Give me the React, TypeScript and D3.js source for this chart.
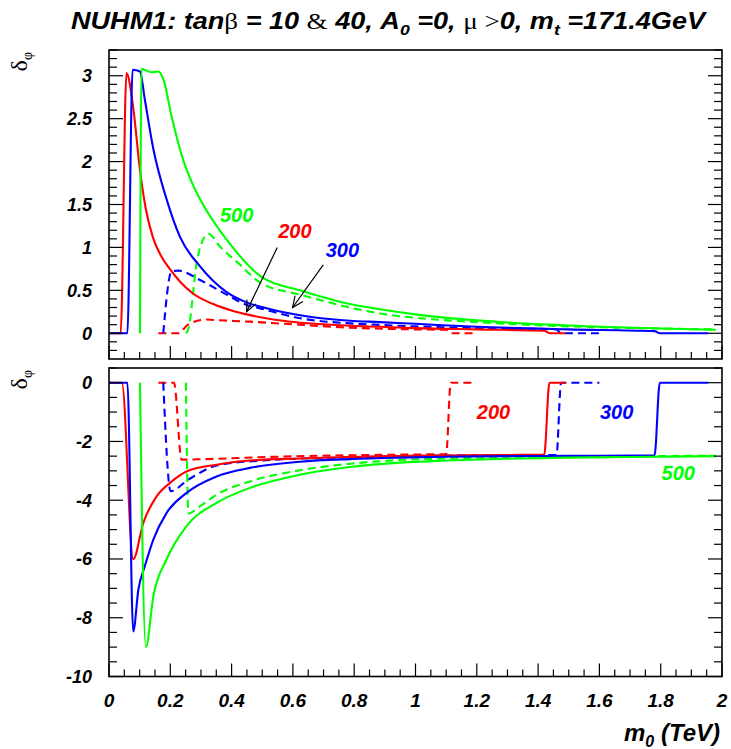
import React from 'react';
import * as d3 from 'd3';

type Pt = [number, number];

// m0 (TeV) vs δφ. Solid: tanβ = 10, dashed: tanβ = 40. Series labelled by m1/2 (GeV).
const upper200Tb10: Pt[] = [[0, 0], [0.038, 0], [0.057, 3.03], [0.08, 2.6], [0.101, 1.9], [0.12, 1.45], [0.143, 1.12], [0.17, 0.9], [0.2, 0.74], [0.232, 0.6], [0.275, 0.46], [0.34, 0.34], [0.405, 0.26], [0.449, 0.22], [0.568, 0.145], [0.786, 0.088], [0.884, 0.075], [1.0, 0.06], [1.2, 0.045], [1.42, 0.03], [1.437, 0], [1.49, 0]];
const upper300Tb10: Pt[] = [[0, 0], [0.06, 0], [0.077, 3.07], [0.101, 3.05], [0.117, 2.72], [0.145, 2.14], [0.188, 1.56], [0.232, 1.12], [0.297, 0.78], [0.384, 0.48], [0.449, 0.36], [0.514, 0.29], [0.678, 0.18], [0.786, 0.145], [0.884, 0.13], [1.0, 0.11], [1.2, 0.075], [1.5, 0.045], [1.78, 0.025], [1.797, 0], [1.955, 0]];
const upper500Tb10: Pt[] = [[0.101, 0], [0.106, 3.08], [0.139, 3.04], [0.161, 3.05], [0.179, 2.94], [0.204, 2.53], [0.242, 2.02], [0.275, 1.72], [0.297, 1.56], [0.384, 1.09], [0.5, 0.65], [0.623, 0.5], [0.786, 0.34], [0.884, 0.28], [1.0, 0.22], [1.2, 0.15], [1.5, 0.09], [1.8, 0.055], [1.98, 0.04]];
const upper200Tb40: Pt[] = [[0.161, 0], [0.226, 0], [0.258, 0.1], [0.318, 0.16], [0.34, 0.155], [0.457, 0.135], [0.62, 0.1], [0.786, 0.065], [1.0, 0.045], [1.1, 0.04], [1.115, 0], [1.187, 0]];
const upper300Tb40: Pt[] = [[0.177, 0], [0.204, 0.72], [0.226, 0.73], [0.297, 0.62], [0.384, 0.45], [0.449, 0.33], [0.493, 0.29], [0.623, 0.175], [0.786, 0.115], [0.884, 0.097], [1.0, 0.08], [1.2, 0.06], [1.46, 0.045], [1.475, 0], [1.6, 0]];
const upper500Tb40: Pt[] = [[0.251, 0], [0.259, 0.05], [0.286, 0.82], [0.313, 1.13], [0.324, 1.16], [0.362, 1.01], [0.427, 0.8], [0.493, 0.59], [0.623, 0.45], [0.786, 0.3], [0.884, 0.23], [1.0, 0.18], [1.2, 0.13], [1.5, 0.08], [1.8, 0.055], [1.98, 0.045]];

const lower200Tb10: Pt[] = [[0, 0], [0.042, 0], [0.079, -6.01], [0.112, -4.77], [0.156, -3.86], [0.199, -3.41], [0.253, -3.02], [0.351, -2.79], [0.46, -2.65], [0.623, -2.58], [0.786, -2.53], [0.95, -2.5], [1.1, -2.48], [1.3, -2.46], [1.42, -2.45], [1.437, 0], [1.49, 0]];
const lower300Tb10: Pt[] = [[0, 0], [0.06, 0], [0.079, -8.47], [0.096, -7.03], [0.117, -6.24], [0.145, -5.33], [0.188, -4.43], [0.253, -3.75], [0.351, -3.19], [0.46, -2.9], [0.623, -2.69], [0.786, -2.6], [0.95, -2.55], [1.1, -2.52], [1.3, -2.5], [1.5, -2.49], [1.78, -2.47], [1.797, 0], [1.955, 0]];
const lower500Tb10: Pt[] = [[0.101, 0], [0.12, -9.0], [0.145, -7.25], [0.188, -6.01], [0.253, -4.88], [0.351, -4.09], [0.46, -3.58], [0.623, -3.13], [0.786, -2.87], [0.95, -2.72], [1.1, -2.65], [1.3, -2.59], [1.5, -2.55], [1.7, -2.53], [1.98, -2.5]];
const lower200Tb40: Pt[] = [[0.161, 0], [0.212, 0], [0.237, -2.62], [0.318, -2.6], [0.514, -2.53], [0.786, -2.47], [0.95, -2.45], [1.1, -2.43], [1.115, 0], [1.187, 0]];
const lower300Tb40: Pt[] = [[0.177, 0], [0.201, -3.69], [0.259, -3.3], [0.351, -2.82], [0.514, -2.64], [0.786, -2.54], [0.95, -2.5], [1.2, -2.47], [1.46, -2.46], [1.475, 0], [1.6, 0]];
const lower500Tb40: Pt[] = [[0.251, 0], [0.259, -4.45], [0.297, -4.2], [0.351, -3.81], [0.46, -3.36], [0.623, -2.98], [0.786, -2.76], [0.95, -2.63], [1.1, -2.58], [1.3, -2.54], [1.5, -2.52], [1.7, -2.5], [1.98, -2.49]];

const xTickLabels = ['0', '0.2', '0.4', '0.6', '0.8', '1', '1.2', '1.4', '1.6', '1.8', '2'];
const upperTickLabels = ['0', '0.5', '1', '1.5', '2', '2.5', '3'];
const lowerTickLabels = ['0', '-2', '-4', '-6', '-8', '-10'];

// In-plot labels: [text, x (TeV), δφ, colour key]
const upperLabels: [string, number, number, string][] = [['500', 0.362, 1.3, 'g'], ['200', 0.552, 1.11, 'r'], ['300', 0.707, 0.894, 'b']];
const lowerLabels: [string, number, number, string][] = [['200', 1.2, -1.23, 'r'], ['300', 1.602, -1.23, 'b'], ['500', 1.803, -3.3, 'g']];
// Arrows: from (x, δφ) to (x, δφ)
const upperArrows: [Pt, Pt][] = [[[0.549, 1.0], [0.449, 0.252]], [[0.699, 0.797], [0.599, 0.3]]];

const COLORS: Record<string, string> = { r: '#ff0000', b: '#0000ff', g: '#00ff00' };
const SANS = '"Liberation Sans", Arial, Helvetica, sans-serif';
const SERIF = '"Liberation Serif", "Times New Roman", serif';

export default function App() {
  const x = d3.scaleLinear().domain([0, 2]).range([109, 722]);
  const yTop = d3.scaleLinear().domain([-0.3, 3.3]).range([359, 50]);
  const yBot = d3.scaleLinear().domain([-10, 0.5]).range([676.5, 368]);

  const mkLine = (y: d3.ScaleLinear<number, number>) =>
    d3.line<Pt>().x((d) => x(d[0])).y((d) => y(d[1])).curve(d3.curveMonotoneX);
  const lineTop = mkLine(yTop);
  const lineBot = mkLine(yBot);

  const upperSeries: [Pt[], string, boolean][] = [
    [upper200Tb40, 'r', true], [upper300Tb40, 'b', true], [upper500Tb40, 'g', true],
    [upper200Tb10, 'r', false], [upper300Tb10, 'b', false], [upper500Tb10, 'g', false],
  ];
  const lowerSeries: [Pt[], string, boolean][] = [
    [lower200Tb40, 'r', true], [lower300Tb40, 'b', true], [lower500Tb40, 'g', true],
    [lower200Tb10, 'r', false], [lower300Tb10, 'b', false], [lower500Tb10, 'g', false],
  ];

  const [x0, x1] = x.range();

  const xTicks = (y: d3.ScaleLinear<number, number>, key: string) => {
    const base = y.range()[0];
    return d3.range(0, 41).map((i) => {
      const major = i % 4 === 0;
      const px = x(i * 0.05);
      return <line key={key + i} x1={px} x2={px} y1={base} y2={base - (major ? 13 : 7)} stroke="#000" strokeWidth={1.2} />;
    });
  };

  const yTicks = (y: d3.ScaleLinear<number, number>, values: number[], isMajor: (v: number) => boolean, key: string) =>
    values.map((v, i) => {
      const py = y(v);
      const len = isMajor(v) ? 14 : 8;
      return (
        <g key={key + i}>
          <line x1={x0} x2={x0 + len} y1={py} y2={py} stroke="#000" strokeWidth={1.2} />
          <line x1={x1} x2={x1 - len} y1={py} y2={py} stroke="#000" strokeWidth={1.2} />
        </g>
      );
    });

  const topMinor = d3.range(-2, 34).map((i) => i / 10);
  const botMinor = d3.range(-20, 2).map((i) => i / 2);

  const arrowHead = (from: Pt, to: Pt, y: d3.ScaleLinear<number, number>) => {
    const fx = x(from[0]), fy = y(from[1]), tx = x(to[0]), ty = y(to[1]);
    const ang = Math.atan2(ty - fy, tx - fx);
    const L = 12, a = 0.42;
    const p1 = [tx - L * Math.cos(ang - a), ty - L * Math.sin(ang - a)];
    const p2 = [tx - L * Math.cos(ang + a), ty - L * Math.sin(ang + a)];
    return `M${p1[0]},${p1[1]}L${tx},${ty}L${p2[0]},${p2[1]}`;
  };

  const labelStyle = { fontFamily: SANS, fontWeight: 700, fontStyle: 'italic' as const };

  return (
    <svg width={731} height={749} viewBox="0 0 731 749" style={{ position: 'absolute', left: 0, top: 0, display: 'block', background: '#fff' }}>
      <rect x={0} y={0} width={731} height={749} fill="#fff" />

      {/* title */}
      <text x={388} y={29} textAnchor="middle" fontSize={23} textLength={634} lengthAdjust="spacingAndGlyphs" style={labelStyle}>
        NUHM1: tan<tspan fontFamily={SERIF} fontWeight={400} fontStyle="normal">β</tspan> = 10 <tspan fontFamily={SERIF} fontWeight={400} fontStyle="normal">&amp;</tspan> 40, A<tspan dy={6} fontSize={15}>0</tspan><tspan dy={-6}> =0, </tspan><tspan fontFamily={SERIF} fontWeight={400} fontStyle="normal">μ &gt;</tspan>0, m<tspan dy={6} fontSize={15}>t</tspan><tspan dy={-6}> =171.4GeV</tspan>
      </text>

      {/* upper panel */}
      <g>
        {upperSeries.map(([d, c, dashed], i) => (
          <path key={'u' + i} d={lineTop(d) ?? ''} fill="none" stroke={COLORS[c]} strokeWidth={2.1} strokeDasharray={dashed ? '8,5' : undefined} />
        ))}
        {upperArrows.map(([f, t], i) => (
          <g key={'a' + i}>
            <line x1={x(f[0])} y1={yTop(f[1])} x2={x(t[0])} y2={yTop(t[1])} stroke="#000" strokeWidth={1.2} />
            <path d={arrowHead(f, t, yTop)} fill="none" stroke="#000" strokeWidth={1.2} />
          </g>
        ))}
        {upperLabels.map(([t, lx, ly, c], i) => (
          <text key={'ul' + i} x={x(lx)} y={yTop(ly)} fontSize={20} fill={COLORS[c]} style={labelStyle}>{t}</text>
        ))}
        {xTicks(yTop, 'tx')}
        {yTicks(yTop, topMinor, (v) => Math.abs(Math.round(v * 10) % 5) === 0, 'ty')}
        <rect x={x0} y={50} width={x1 - x0} height={309} fill="none" stroke="#000" strokeWidth={1.6} />
        {upperTickLabels.map((t) => (
          <text key={'ut' + t} x={92} y={yTop(+t)} dy="0.36em" textAnchor="end" fontSize={18} style={labelStyle}>{t}</text>
        ))}
        <text transform="translate(27,52) rotate(-90)" textAnchor="end" fontFamily={SERIF} fontSize={24}>
          δ<tspan dy={5} fontSize={14}>φ</tspan>
        </text>
      </g>

      {/* lower panel */}
      <g>
        {lowerSeries.map(([d, c, dashed], i) => (
          <path key={'l' + i} d={lineBot(d) ?? ''} fill="none" stroke={COLORS[c]} strokeWidth={2.1} strokeDasharray={dashed ? '8,5' : undefined} />
        ))}
        {lowerLabels.map(([t, lx, ly, c], i) => (
          <text key={'ll' + i} x={x(lx)} y={yBot(ly)} fontSize={20} fill={COLORS[c]} style={labelStyle}>{t}</text>
        ))}
        {xTicks(yBot, 'bx')}
        {yTicks(yBot, botMinor, (v) => Math.abs(v) % 2 === 0, 'by')}
        <rect x={x0} y={368} width={x1 - x0} height={308.5} fill="none" stroke="#000" strokeWidth={1.6} />
        {lowerTickLabels.map((t) => (
          <text key={'lt' + t} x={92} y={yBot(+t)} dy="0.36em" textAnchor="end" fontSize={18} style={labelStyle}>{t}</text>
        ))}
        <text transform="translate(27,370) rotate(-90)" textAnchor="end" fontFamily={SERIF} fontSize={24}>
          δ<tspan dy={5} fontSize={14}>φ</tspan>
        </text>
        {xTickLabels.map((t) => (
          <text key={'xt' + t} x={x(+t)} y={707} textAnchor="middle" fontSize={19} style={labelStyle}>{t}</text>
        ))}
        <text x={720} y={741} textAnchor="end" fontSize={24} style={labelStyle}>
          m<tspan dy={6} fontSize={16}>0</tspan><tspan dy={-6}> (TeV)</tspan>
        </text>
      </g>
    </svg>
  );
}
